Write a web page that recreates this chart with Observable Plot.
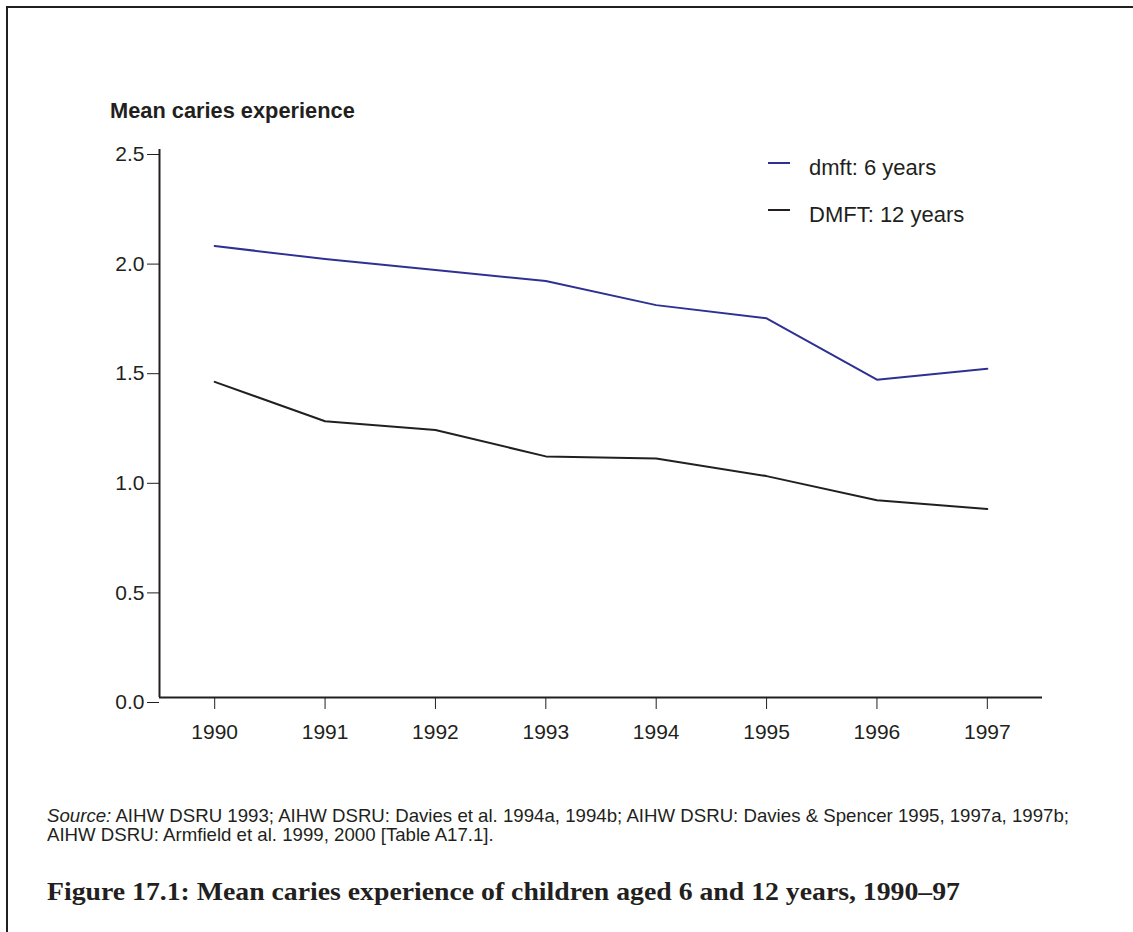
<!DOCTYPE html>
<html>
<head>
<meta charset="utf-8">
<script src="https://cdn.jsdelivr.net/npm/d3@7"></script>
<script src="https://cdn.jsdelivr.net/npm/@observablehq/plot@0.6"></script>
<style>
  html, body { margin: 0; padding: 0; background: #fff; overflow: hidden; }
  #page { position: relative; width: 1133px; height: 932px; overflow: hidden; background: #fff; color: #231f20; font-family: "Liberation Sans", Arial, sans-serif; }
  #frame { position: absolute; left: 6px; top: 6px; width: 1125px; height: 924px; border-left: 2px solid #231f20; border-top: 2px solid #231f20; }
  #ytitle { position: absolute; left: 110px; top: 98px; font-size: 21.8px; font-weight: bold; white-space: nowrap; line-height: 26px; }
  #chart { position: absolute; left: 0; top: 130px; }
  #chart svg { display: block; }
  #legend { position: absolute; left: 768px; top: 153px; font-size: 22px; }
  .item { position: relative; height: 47px; white-space: nowrap; }
  .swatch { position: absolute; left: 0; top: 9px; width: 22px; height: 2px; }
  .label { position: absolute; left: 41px; top: 2px; line-height: 26px; }
  #source { position: absolute; left: 47px; top: 806px; font-size: 18.5px; line-height: 19px; white-space: nowrap; transform-origin: 0 0; }
  #caption { position: absolute; left: 47px; top: 879px; font-family: "Liberation Serif", serif; font-weight: bold; font-size: 26px; line-height: 26px; white-space: nowrap; transform-origin: 0 0; }
</style>
</head>
<body>
<div id="page">
  <div id="frame"></div>
  <div id="ytitle">Mean caries experience</div>
  <div id="chart"></div>
  <div id="legend"></div>
  <div id="source"><span id="src1"><i>Source:</i> AIHW DSRU 1993; AIHW DSRU: Davies et al. 1994a, 1994b; AIHW DSRU: Davies &amp; Spencer 1995, 1997a, 1997b;</span><br>AIHW DSRU: Armfield et al. 1999, 2000 [Table A17.1].</div>
  <div id="caption"><span id="cap1">Figure 17.1: Mean caries experience of children aged 6 and 12 years, 1990–97</span></div>
</div>
<script>
const years = [1990, 1991, 1992, 1993, 1994, 1995, 1996, 1997];
const dmft6 = [2.06, 2.00, 1.95, 1.90, 1.79, 1.73, 1.45, 1.50];
const dmft12 = [1.44, 1.26, 1.22, 1.10, 1.09, 1.01, 0.90, 0.86];
const seriesNames = ["dmft: 6 years", "DMFT: 12 years"];
const seriesColors = ["#2e3192", "#231f20"];
const yTicks = [0, 0.5, 1.0, 1.5, 2.0, 2.5];
const xDomain = [1989.5, 1997.5];

const rows = [];
[dmft6, dmft12].forEach((vals, s) => years.forEach((yr, i) => rows.push({series: seriesNames[s], year: yr, value: vals[i]})));

const chart = Plot.plot({
  width: 1133,
  height: 630,
  marginLeft: 159,
  marginRight: 91,
  marginTop: 19,
  marginBottom: 63,
  style: {fontFamily: '"Liberation Sans", Arial, sans-serif', fontSize: "21px", color: "#231f20", background: "transparent"},
  x: {domain: xDomain},
  y: {domain: [0, 2.5]},
  color: {domain: seriesNames, range: seriesColors},
  marks: [
    Plot.axisY({ticks: yTicks, tickFormat: d3.format(".1f"), tickSize: 12, tickPadding: 3, label: null, dy: 5, stroke: "#231f20"}),
    Plot.axisX({ticks: years, tickFormat: d => String(d), tickSize: 12, tickPadding: 15, label: null, stroke: "#231f20"}),
    Plot.ruleX([xDomain[0]], {y1: 0, y2: 2.5, stroke: "#231f20", strokeWidth: 2}),
    Plot.ruleY([0], {x1: xDomain[0], x2: xDomain[1], stroke: "#231f20", strokeWidth: 2}),
    Plot.line(rows, {x: "year", y: "value", z: "series", stroke: "series", strokeWidth: 2})
  ]
});
document.getElementById("chart").appendChild(chart);

const legend = document.getElementById("legend");
seriesNames.forEach((name, i) => {
  const item = document.createElement("div");
  item.className = "item";
  item.innerHTML = `<span class="swatch" style="background:${seriesColors[i]}"></span><span class="label">${name}</span>`;
  legend.appendChild(item);
});

// fit text blocks to the reference widths
function fitWidth(spanId, blockId, target) {
  const w = document.getElementById(spanId).getBoundingClientRect().width;
  if (w > 0) document.getElementById(blockId).style.transform = `scaleX(${target / w})`;
}
fitWidth("src1", "source", 1022);
fitWidth("cap1", "caption", 913);
</script>
</body>
</html>
